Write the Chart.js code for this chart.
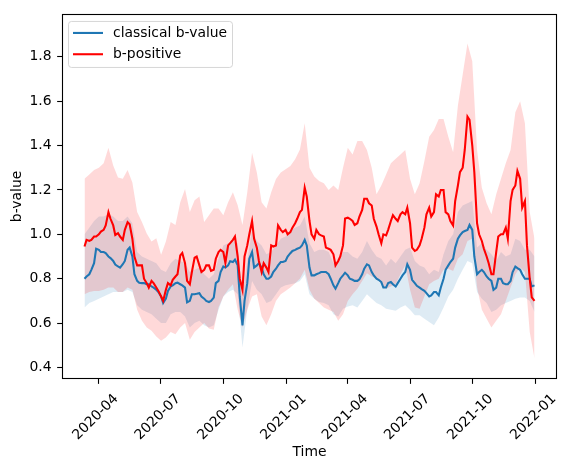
<!DOCTYPE html>
<html>
<head>
<meta charset="utf-8">
<script src="https://cdn.jsdelivr.net/npm/chart.js@4.4.1/dist/chart.umd.min.js"></script>
<style>
html,body{margin:0;padding:0;background:#fff;}
#wrap{width:571px;height:469px;}
</style>
</head>
<body>
<div id="wrap"><canvas id="c" width="571" height="469"></canvas></div>
<script>
// weekly dates used for the confidence bands
const dates = [
'2020-03-12','2020-03-19','2020-03-26','2020-04-02','2020-04-09','2020-04-16','2020-04-23','2020-04-30',
'2020-05-07','2020-05-14','2020-05-21','2020-05-28','2020-06-04','2020-06-11','2020-06-18','2020-06-25',
'2020-07-02','2020-07-09','2020-07-16','2020-07-23','2020-07-30','2020-08-06','2020-08-13','2020-08-20',
'2020-08-27','2020-09-03','2020-09-10','2020-09-17','2020-09-24','2020-10-01','2020-10-08','2020-10-15',
'2020-10-22','2020-10-29','2020-11-05','2020-11-12','2020-11-19','2020-11-26','2020-12-03','2020-12-10',
'2020-12-17','2020-12-24','2020-12-31','2021-01-07','2021-01-14','2021-01-21','2021-01-28','2021-02-04',
'2021-02-11','2021-02-18','2021-02-25','2021-03-04','2021-03-11','2021-03-18','2021-03-25','2021-04-01',
'2021-04-08','2021-04-15','2021-04-22','2021-04-29','2021-05-06','2021-05-13','2021-05-20','2021-05-27',
'2021-06-03','2021-06-10','2021-06-17','2021-06-24','2021-07-01','2021-07-08','2021-07-15','2021-07-22',
'2021-07-29','2021-08-05','2021-08-12','2021-08-19','2021-08-26','2021-09-02','2021-09-09','2021-09-16',
'2021-09-23','2021-09-30','2021-10-07','2021-10-14','2021-10-21','2021-10-28','2021-11-04','2021-11-11',
'2021-11-18','2021-11-25','2021-12-02','2021-12-09','2021-12-16','2021-12-23','2021-12-30'];

// twice-weekly dates used for the two b-value lines
const lineDates = [
'2020-03-12','2020-03-15','2020-03-19','2020-03-22','2020-03-26','2020-03-29','2020-04-02','2020-04-05',
'2020-04-09','2020-04-12','2020-04-16','2020-04-19','2020-04-23','2020-04-26','2020-04-30','2020-05-03',
'2020-05-07','2020-05-10','2020-05-14','2020-05-17','2020-05-21','2020-05-24','2020-05-28','2020-05-31',
'2020-06-04','2020-06-07','2020-06-11','2020-06-14','2020-06-18','2020-06-21','2020-06-25','2020-06-28',
'2020-07-02','2020-07-05','2020-07-09','2020-07-12','2020-07-16','2020-07-19','2020-07-23','2020-07-26',
'2020-07-30','2020-08-02','2020-08-06','2020-08-09','2020-08-13','2020-08-16','2020-08-20','2020-08-23',
'2020-08-27','2020-08-30','2020-09-03','2020-09-06','2020-09-10','2020-09-13','2020-09-17','2020-09-20',
'2020-09-24','2020-09-27','2020-10-01','2020-10-04','2020-10-08','2020-10-11','2020-10-15','2020-10-18',
'2020-10-22','2020-10-25','2020-10-29','2020-11-01','2020-11-05','2020-11-08','2020-11-12','2020-11-15',
'2020-11-19','2020-11-22','2020-11-26','2020-11-29','2020-12-03','2020-12-06','2020-12-10','2020-12-13',
'2020-12-17','2020-12-20','2020-12-24','2020-12-27','2020-12-31','2021-01-03','2021-01-07','2021-01-10',
'2021-01-14','2021-01-17','2021-01-21','2021-01-24','2021-01-28','2021-01-31','2021-02-04','2021-02-07',
'2021-02-11','2021-02-14','2021-02-18','2021-02-21','2021-02-25','2021-02-28','2021-03-04','2021-03-07',
'2021-03-11','2021-03-14','2021-03-18','2021-03-21','2021-03-25','2021-03-28','2021-04-01','2021-04-04',
'2021-04-08','2021-04-11','2021-04-15','2021-04-18','2021-04-22','2021-04-25','2021-04-29','2021-05-02',
'2021-05-06','2021-05-09','2021-05-13','2021-05-16','2021-05-20','2021-05-23','2021-05-27','2021-05-30',
'2021-06-03','2021-06-06','2021-06-10','2021-06-13','2021-06-17','2021-06-20','2021-06-24','2021-06-27',
'2021-07-01','2021-07-04','2021-07-08','2021-07-11','2021-07-15','2021-07-18','2021-07-22','2021-07-25',
'2021-07-29','2021-08-01','2021-08-05','2021-08-08','2021-08-12','2021-08-15','2021-08-19','2021-08-22',
'2021-08-26','2021-08-29','2021-09-02','2021-09-05','2021-09-09','2021-09-12','2021-09-16','2021-09-19',
'2021-09-23','2021-09-26','2021-09-30','2021-10-03','2021-10-07','2021-10-10','2021-10-14','2021-10-17',
'2021-10-21','2021-10-24','2021-10-28','2021-10-31','2021-11-04','2021-11-07','2021-11-11','2021-11-14',
'2021-11-18','2021-11-21','2021-11-25','2021-11-28','2021-12-02','2021-12-05','2021-12-09','2021-12-12',
'2021-12-16','2021-12-19','2021-12-23','2021-12-26','2021-12-30'];

const classical = [
0.80,0.81,0.82,0.84,0.87,0.935,0.93,0.92,0.92,0.915,0.90,0.893,0.88,0.864,0.855,0.85,
0.865,0.88,0.93,0.94,0.90,0.82,0.79,0.782,0.78,0.78,0.775,0.775,0.765,0.76,0.75,0.74,
0.72,0.69,0.71,0.745,0.765,0.77,0.78,0.782,0.775,0.77,0.76,0.693,0.70,0.73,0.73,0.732,
0.735,0.72,0.71,0.70,0.695,0.70,0.715,0.78,0.79,0.83,0.855,0.85,0.86,0.879,0.875,0.886,
0.86,0.72,0.59,0.70,0.78,0.89,0.92,0.85,0.86,0.87,0.85,0.82,0.80,0.80,0.81,0.83,
0.845,0.86,0.875,0.875,0.88,0.90,0.915,0.925,0.93,0.935,0.94,0.95,0.975,0.95,0.85,0.815,
0.815,0.82,0.825,0.83,0.83,0.83,0.82,0.80,0.77,0.755,0.78,0.80,0.815,0.827,0.815,0.80,
0.795,0.79,0.79,0.797,0.82,0.845,0.865,0.86,0.83,0.815,0.80,0.795,0.785,0.76,0.76,0.78,
0.785,0.775,0.765,0.78,0.80,0.815,0.83,0.865,0.84,0.795,0.78,0.768,0.76,0.753,0.745,0.735,
0.72,0.725,0.74,0.74,0.725,0.76,0.80,0.84,0.86,0.875,0.89,0.94,0.98,0.995,1.01,1.015,
1.02,1.042,1.02,0.90,0.82,0.83,0.84,0.83,0.81,0.80,0.79,0.75,0.76,0.80,0.80,0.78,
0.775,0.775,0.79,0.83,0.855,0.848,0.84,0.82,0.80,0.80,0.80,0.765,0.77];

const bPositive = [
0.945,0.975,0.97,0.975,0.99,0.99,1.00,1.012,1.02,1.04,1.10,1.07,1.04,0.997,1.005,0.99,
0.975,1.02,1.055,1.045,0.98,0.90,0.86,0.86,0.86,0.80,0.78,0.76,0.79,0.78,0.76,0.745,
0.72,0.70,0.75,0.78,0.77,0.795,0.81,0.82,0.905,0.916,0.87,0.79,0.775,0.83,0.895,0.90,
0.86,0.83,0.84,0.86,0.86,0.835,0.84,0.89,0.92,0.93,0.92,0.871,0.95,0.96,0.975,0.99,
0.90,0.80,0.75,0.90,0.95,1.00,1.06,0.98,0.94,0.88,0.83,0.87,0.85,0.83,0.95,0.945,
0.95,1.04,1.02,1.01,1.02,1.00,1.01,1.03,1.05,1.07,1.10,1.11,1.21,1.17,1.06,1.00,
0.98,1.02,1.00,0.995,0.99,0.94,0.935,0.93,0.91,0.86,0.88,0.90,0.95,1.071,1.075,1.07,
1.06,1.042,1.05,1.08,1.11,1.16,1.16,1.14,1.13,1.07,1.035,1.00,0.96,1.00,0.995,1.02,
1.06,1.086,1.07,1.06,1.09,1.10,1.09,1.12,1.05,0.94,0.925,0.93,0.95,0.98,1.03,1.09,
1.12,1.08,1.10,1.18,1.17,1.20,1.20,1.10,1.09,1.06,1.04,1.15,1.22,1.28,1.30,1.38,
1.53,1.516,1.40,1.28,1.05,1.00,0.97,0.935,0.90,0.87,0.82,0.82,0.92,0.99,1.00,1.00,
1.03,0.98,1.15,1.20,1.22,1.286,1.25,1.12,1.15,0.95,0.80,0.716,0.70];

const classicalLow = [
0.67,0.69,0.70,0.71,0.72,0.73,0.74,0.74,0.74,0.75,0.74,0.68,0.66,0.65,0.64,0.62,
0.60,0.60,0.64,0.65,0.65,0.63,0.58,0.60,0.61,0.59,0.58,0.59,0.66,0.72,0.74,0.75,
0.73,0.49,0.66,0.79,0.75,0.73,0.69,0.70,0.73,0.76,0.77,0.775,0.78,0.79,0.82,0.73,
0.71,0.695,0.69,0.68,0.64,0.63,0.665,0.675,0.68,0.67,0.70,0.73,0.71,0.69,0.68,0.665,
0.66,0.655,0.67,0.68,0.66,0.635,0.635,0.62,0.605,0.59,0.625,0.67,0.72,0.75,0.80,0.84,
0.88,0.87,0.74,0.71,0.69,0.65,0.66,0.68,0.69,0.70,0.71,0.715,0.715,0.70,0.65];

const classicalHigh = [
1.00,1.03,1.06,1.08,1.08,1.09,1.08,1.06,1.06,1.08,1.05,0.92,0.90,0.89,0.88,0.87,
0.84,0.83,0.87,0.89,0.88,0.87,0.83,0.84,0.85,0.82,0.80,0.82,0.89,0.95,0.96,0.97,
0.96,0.72,0.88,1.02,0.97,0.95,0.91,0.92,0.95,0.98,0.99,1.02,1.03,1.04,1.08,0.96,
0.92,0.93,0.93,0.92,0.87,0.88,0.92,0.92,0.90,0.89,0.92,0.97,0.93,0.90,0.89,0.86,
0.89,0.87,0.90,0.93,0.94,0.88,0.86,0.85,0.82,0.84,0.83,0.91,0.97,1.00,1.10,1.13,
1.14,1.15,0.94,0.96,0.93,0.91,0.88,0.92,0.90,0.91,0.98,0.97,0.93,0.93,0.90];

const bPositiveLow = [
0.73,0.74,0.745,0.745,0.75,0.76,0.76,0.74,0.74,0.76,0.75,0.66,0.61,0.58,0.565,0.54,
0.52,0.535,0.56,0.55,0.58,0.60,0.525,0.56,0.58,0.60,0.575,0.57,0.67,0.72,0.75,0.775,
0.66,0.58,0.66,0.72,0.73,0.63,0.59,0.64,0.70,0.73,0.745,0.76,0.78,0.80,0.84,0.75,
0.71,0.69,0.67,0.66,0.65,0.61,0.64,0.70,0.73,0.755,0.79,0.825,0.81,0.80,0.78,0.755,
0.765,0.775,0.82,0.86,0.75,0.67,0.665,0.72,0.775,0.79,0.80,0.84,0.845,0.835,0.89,0.91,
0.97,0.98,0.76,0.66,0.62,0.58,0.61,0.64,0.70,0.76,0.82,0.85,0.83,0.56,0.44];

const bPositiveHigh = [
1.25,1.27,1.29,1.30,1.32,1.39,1.31,1.256,1.25,1.29,1.234,1.10,1.056,1.004,0.968,0.982,
0.908,0.968,1.056,1.042,1.145,1.204,1.10,1.153,1.17,1.056,1.086,1.116,1.116,1.086,1.145,1.19,
1.131,1.042,1.19,1.368,1.279,1.145,1.116,1.19,1.249,1.279,1.293,1.308,1.338,1.382,1.50,1.30,
1.26,1.24,1.23,1.20,1.22,1.20,1.30,1.39,1.36,1.42,1.42,1.38,1.30,1.18,1.22,1.27,
1.32,1.34,1.36,1.38,1.25,1.18,1.23,1.33,1.44,1.47,1.52,1.52,1.44,1.37,1.58,1.72,
1.86,1.78,1.38,1.21,1.14,1.09,1.18,1.25,1.32,1.38,1.55,1.60,1.50,1.10,0.98];

const xTickDates = ['2020-04-01','2020-07-01','2020-10-01','2021-01-01','2021-04-01','2021-07-01','2021-10-01','2022-01-01'];
const yTicks = [0.4,0.6,0.8,1.0,1.2,1.4,1.6,1.8];
const seriesNames = ['classical b-value','b-positive'];

const BLUE = '#1f77b4';
const RED = '#ff0000';
const FS = 13.9;
const FONT = {family: 'DejaVu Sans', size: FS};
const TICK = 4.86;

function toDay(s){const p=s.split('-').map(Number);return Date.UTC(p[0],p[1]-1,p[2])/86400000;}
function pts(ds,vals){return vals.map((v,i)=>({x:toDay(ds[i]),y:v}));}

const x0 = toDay(dates[0]), x1 = toDay(dates[dates.length-1]);
const span = x1 - x0;

const framePlugin = {
  id:'frame',
  afterDatasetsDraw(chart){
    const {ctx, chartArea:a} = chart;
    ctx.save();
    ctx.strokeStyle='#000';ctx.lineWidth=1.1;
    ctx.strokeRect(Math.round(a.left)+0.5,Math.round(a.top)+0.5,Math.round(a.right-a.left)-1,Math.round(a.bottom-a.top)-1);
    ctx.restore();
  },
  afterDraw(chart){
    const {ctx, chartArea:a} = chart;
    ctx.save();
    const bx=a.left+6.5, by=a.top+7.5, bw=164, bh=46, r=3;
    ctx.beginPath();
    ctx.moveTo(bx+r,by);ctx.lineTo(bx+bw-r,by);ctx.arcTo(bx+bw,by,bx+bw,by+r,r);
    ctx.lineTo(bx+bw,by+bh-r);ctx.arcTo(bx+bw,by+bh,bx+bw-r,by+bh,r);
    ctx.lineTo(bx+r,by+bh);ctx.arcTo(bx,by+bh,bx,by+bh-r,r);
    ctx.lineTo(bx,by+r);ctx.arcTo(bx,by,bx+r,by,r);ctx.closePath();
    ctx.fillStyle='rgba(255,255,255,0.8)';ctx.fill();
    ctx.strokeStyle='rgba(204,204,204,0.8)';ctx.lineWidth=1;ctx.stroke();
    const cols=[BLUE,RED];
    ctx.font = FS+'px "DejaVu Sans"';
    ctx.textBaseline='middle';ctx.textAlign='left';
    for(let i=0;i<2;i++){
      const y = by+11.5+i*21.3;
      ctx.strokeStyle=cols[i];ctx.lineWidth=2.08;
      ctx.beginPath();ctx.moveTo(bx+4.5,y);ctx.lineTo(bx+34.5,y);ctx.stroke();
      ctx.fillStyle='#000';
      ctx.fillText(seriesNames[i],bx+44.5,y+0.5);
    }
    ctx.restore();
  }
};

const band = (data,color,fillTarget,order)=>({
  data, borderWidth:0, pointRadius:0, backgroundColor:color, fill: fillTarget===null?false:{target:fillTarget}, order, tension:0
});

new Chart(document.getElementById('c'),{
  type:'line',
  data:{datasets:[
    band(pts(dates,classicalLow),'rgba(0,0,0,0)',null,5),
    band(pts(dates,classicalHigh),'rgba(31,119,180,0.15)',0,4),
    band(pts(dates,bPositiveLow),'rgba(0,0,0,0)',null,3),
    band(pts(dates,bPositiveHigh),'rgba(255,0,0,0.15)',2,2),
    {label:seriesNames[0],data:pts(lineDates,classical),borderColor:BLUE,borderWidth:2.08,pointRadius:0,fill:false,order:1,tension:0},
    {label:seriesNames[1],data:pts(lineDates,bPositive),borderColor:RED,borderWidth:2.08,pointRadius:0,fill:false,order:0,tension:0}
  ]},
  options:{
    responsive:false, animation:false, devicePixelRatio:1,
    layout:{padding:{top:9,right:14,left:0,bottom:0}},
    plugins:{legend:{display:false},tooltip:{enabled:false}},
    scales:{
      x:{type:'linear',min:x0-0.05*span,max:x1+0.05*span,
        afterBuildTicks:s=>{s.ticks=xTickDates.map(d=>({value:toDay(d)}));},
        afterFit:s=>{s.height=90;},
        ticks:{autoSkip:false,minRotation:45,maxRotation:45,labelOffset:18,padding:7,color:'#000',font:FONT,
          callback:v=>{const d=new Date(v*86400000);return d.getUTCFullYear()+'-'+String(d.getUTCMonth()+1).padStart(2,'0');}},
        grid:{display:true,drawOnChartArea:false,drawTicks:true,tickLength:TICK,tickColor:'#000',tickWidth:1.1},
        border:{display:false},
        title:{display:true,text:'Time',color:'#000',font:FONT,padding:{top:0,bottom:8.7}}
      },
      y:{type:'linear',min:0.348,max:1.993,
        afterBuildTicks:s=>{s.ticks=yTicks.map(v=>({value:v}));},
        afterFit:s=>{s.width=62;},
        ticks:{color:'#000',font:FONT,padding:5.6,callback:v=>v.toFixed(1)},
        grid:{display:true,drawOnChartArea:false,drawTicks:true,tickLength:TICK,tickColor:'#000',tickWidth:1.1},
        border:{display:false},
        title:{display:true,text:'b-value',color:'#000',font:FONT,padding:{top:9.2,bottom:0}}
      }
    }
  },
  plugins:[framePlugin]
});
</script>
</body>
</html>
